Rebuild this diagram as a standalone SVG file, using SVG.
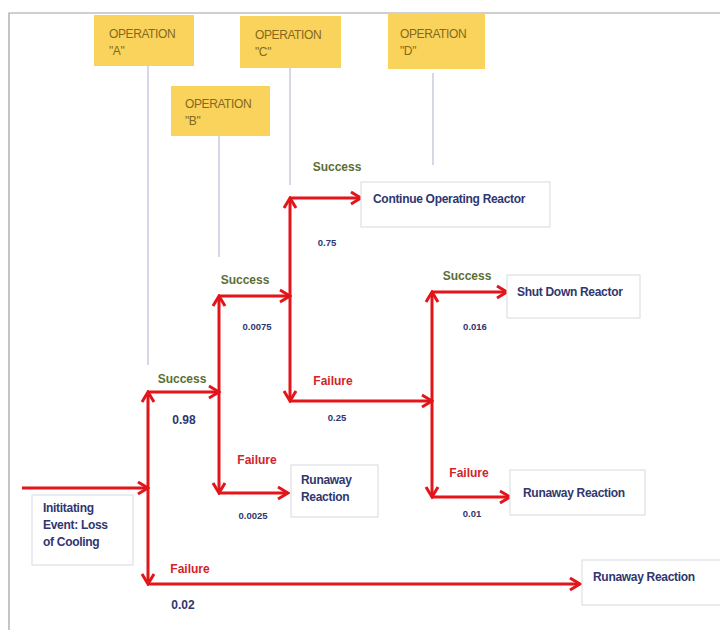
<svg xmlns="http://www.w3.org/2000/svg" width="720" height="630" viewBox="0 0 720 630">
<style>
.op rect{fill:#f9d35b}
.op text{font-family:"Liberation Sans",Arial,sans-serif;font-size:12px;fill:#85691c;letter-spacing:-0.4px}
.guide{stroke:#c7cbde;stroke-width:1.5;fill:none}
.box rect{fill:#fff;stroke:#dedfe6;stroke-width:1.2}
.box text{font-family:"Liberation Sans",Arial,sans-serif;font-size:12px;font-weight:bold;fill:#2f3670;letter-spacing:-0.3px}
.ok{font-family:"Liberation Sans",Arial,sans-serif;font-size:12px;font-weight:bold;fill:#5b6e35;text-anchor:middle}
.bad{font-family:"Liberation Sans",Arial,sans-serif;font-size:12px;font-weight:bold;fill:#d2232a;text-anchor:middle}
.pb{font-family:"Liberation Sans",Arial,sans-serif;font-size:12px;font-weight:bold;fill:#2f3670;text-anchor:middle}
.ps{font-family:"Liberation Sans",Arial,sans-serif;font-size:9.5px;font-weight:bold;fill:#2f3670;text-anchor:middle}
.con path{stroke:#e3151a;stroke-width:3;fill:none;marker-end:url(#arr)}
</style>
<defs>
<marker id="arr" viewBox="-14 -9 16 18" refX="0" refY="0" markerWidth="16" markerHeight="18" markerUnits="userSpaceOnUse" orient="auto">
<path d="M-10,-6 L0,0 L-10,6" fill="none" stroke="#e3151a" stroke-width="3" stroke-linejoin="miter"/>
</marker>
</defs>
<rect x="0" y="0" width="720" height="630" fill="#fff"/>
<path d="M9,630 V13 H720" fill="none" stroke="#a0a0a0" stroke-width="1.2"/>

<g id="guides">
<path class="guide" d="M148,66 V365"/>
<path class="guide" d="M219,136 V257"/>
<path class="guide" d="M290,68 V185"/>
<path class="guide" d="M433,73 V165"/>
</g>

<g id="opA" class="op"><rect x="94" y="15" width="100" height="51"/><text x="109" y="38">OPERATION</text><text x="109" y="55">"A"</text></g>
<g id="opB" class="op"><rect x="171" y="86" width="99" height="50"/><text x="185" y="108">OPERATION</text><text x="185" y="125">"B"</text></g>
<g id="opC" class="op"><rect x="240" y="16" width="101" height="52"/><text x="255" y="39">OPERATION</text><text x="255" y="56">"C"</text></g>
<g id="opD" class="op"><rect x="388" y="13" width="97" height="56"/><text x="400" y="38">OPERATION</text><text x="400" y="55">"D"</text></g>

<g id="connectors" class="con">
<path d="M22,488 H148"/>
<path d="M148,488 V392"/>
<path d="M148,488 V584"/>
<path d="M148,392 H219"/>
<path d="M148,584 H580"/>
<path d="M219,394 V296"/>
<path d="M219,394 V493"/>
<path d="M219,296 H290"/>
<path d="M219,493 H288"/>
<path d="M290,298 V198"/>
<path d="M290,298 V401"/>
<path d="M290,198 H361"/>
<path d="M290,401 H432"/>
<path d="M432,400 V292"/>
<path d="M432,400 V497"/>
<path d="M432,292 H507"/>
<path d="M432,497 H510"/>
</g>

<g id="initiating" class="box"><rect x="32" y="495" width="101" height="70"/><text x="43" y="512">Inititating</text><text x="43" y="529">Event: Loss</text><text x="43" y="546">of Cooling</text></g>
<g id="continue" class="box"><rect x="361" y="182" width="189" height="45"/><text x="373" y="203">Continue Operating Reactor</text></g>
<g id="shutdown" class="box"><rect x="507" y="275" width="133" height="43"/><text x="517" y="296">Shut Down Reactor</text></g>
<g id="runawayB" class="box"><rect x="291" y="465" width="87" height="52"/><text x="301" y="484">Runaway</text><text x="301" y="501">Reaction</text></g>
<g id="runawayD" class="box"><rect x="510" y="470" width="135" height="45"/><text x="523" y="497">Runaway Reaction</text></g>
<g id="runawayA" class="box"><rect x="582" y="560" width="140" height="45"/><text x="593" y="581">Runaway Reaction</text></g>

<g id="labels">
<text class="ok" x="182" y="383">Success</text>
<text class="pb" x="184" y="424">0.98</text>
<text class="bad" x="190" y="573">Failure</text>
<text class="pb" x="183" y="609">0.02</text>
<text class="ok" x="245" y="284">Success</text>
<text class="ps" x="257" y="330">0.0075</text>
<text class="bad" x="257" y="464">Failure</text>
<text class="ps" x="253" y="519">0.0025</text>
<text class="ok" x="337" y="171">Success</text>
<text class="ps" x="327" y="246">0.75</text>
<text class="bad" x="333" y="385">Failure</text>
<text class="ps" x="337" y="421">0.25</text>
<text class="ok" x="467" y="280">Success</text>
<text class="ps" x="475" y="330">0.016</text>
<text class="bad" x="469" y="477">Failure</text>
<text class="ps" x="472" y="517">0.01</text>
</g>
</svg>
